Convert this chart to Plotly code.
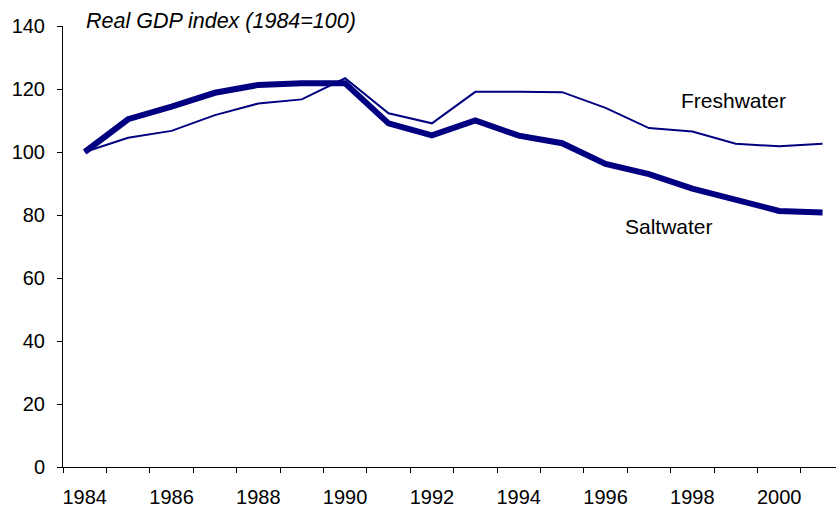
import plotly.graph_objects as go

years = list(range(1984, 2002))
freshwater = [100, 104.5, 106.7, 111.7, 115.4, 116.7, 123.4, 112.3, 109.1, 119.1, 119.1, 119.0, 114.0, 107.6, 106.5, 102.6, 101.8, 102.6]
saltwater = [100, 110.4, 114.4, 118.8, 121.3, 121.8, 121.8, 109.1, 105.3, 110.0, 105.2, 102.8, 96.2, 93.0, 88.4, 84.7, 81.3, 80.8]
label_years = [1984, 1986, 1988, 1990, 1992, 1994, 1996, 1998, 2000]
y_ticks = [0, 20, 40, 60, 80, 100, 120, 140]

navy = "#000080"
font_family = "Liberation Sans, Arial, sans-serif"

fig = go.Figure()
fig.add_trace(go.Scatter(x=years, y=freshwater, mode="lines", name="Freshwater",
                         line=dict(color=navy, width=2), showlegend=False))
fig.add_trace(go.Scatter(x=years, y=saltwater, mode="lines", name="Saltwater",
                         line=dict(color=navy, width=6), showlegend=False))
# invisible trace to activate xaxis2 for labels
fig.add_trace(go.Scatter(x=[years[0]], y=[saltwater[0]], xaxis="x2", mode="markers",
                         marker=dict(opacity=0), showlegend=False, hoverinfo="skip"))

xr = [1983.5, 2001.31]
boundaries = [y - 0.5 for y in years] + [years[-1] + 0.5]

fig.update_layout(
    width=836, height=512,
    margin=dict(l=63, r=0, t=26, b=45, autoexpand=False),
    paper_bgcolor="white", plot_bgcolor="white",
    font=dict(family=font_family, size=20, color="black"),
    xaxis=dict(range=xr, tickmode="array", tickvals=boundaries, showticklabels=False,
               ticks="outside", ticklen=5, tickcolor="black", showgrid=False,
               zeroline=False, showline=True, linecolor="black", linewidth=1,
               automargin=False),
    xaxis2=dict(range=xr, overlaying="x", side="bottom", anchor="y",
                tickmode="array", tickvals=label_years, ticktext=[str(v) for v in label_years],
                ticks="", showgrid=False, zeroline=False, showline=False,
                ticklabelstandoff=16, tickfont=dict(size=20), automargin=False),
    yaxis=dict(range=[0, 140], tickmode="array", tickvals=y_ticks,
               ticks="outside", ticklen=5, tickcolor="black", showgrid=False,
               zeroline=False, showline=True, linecolor="black", linewidth=1,
               ticklabelstandoff=8, tickfont=dict(size=20), automargin=False),
    title=dict(text="<i>Real GDP index (1984=100)</i>", x=86/836, xanchor="left",
               y=1 - 20/512, yanchor="middle", font=dict(size=21.5)),
    annotations=[
        dict(x=1998.94, y=116.5, xref="x", yref="y", text="Freshwater", showarrow=False,
             font=dict(size=21)),
        dict(x=1997.46, y=76.5, xref="x", yref="y", text="Saltwater", showarrow=False,
             font=dict(size=21)),
    ],
)

fig.write_html("out.html", config={"displayModeBar": False},
               post_script="document.body.style.margin='0px';")
